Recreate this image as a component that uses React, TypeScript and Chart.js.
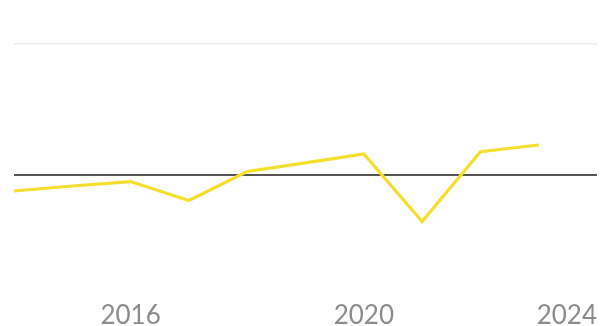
import React, { useEffect, useRef } from "react";
import { Chart, registerables } from "chart.js";

Chart.register(...registerables);

const years = [2014, 2015, 2016, 2017, 2018, 2019, 2020, 2021, 2022, 2023];
const values = [-1.22, -0.84, -0.5, -1.95, 0.27, 0.92, 1.6, -3.56, 1.78, 2.29];
const xTickLabels = [2016, 2020, 2024];
const yMin = -10;
const yMax = 10;
const xMin = 2014;
const xMax = 2024;

const labelPlugin = {
  id: "xLabels",
  afterDraw(chart: any) {
    const { ctx, scales } = chart;
    const x = scales.x;
    ctx.save();
    ctx.font = "26px Lato";
    ctx.fillStyle = "#8c8c8c";
    ctx.textAlign = "center";
    ctx.textBaseline = "middle";
    const w = chart.width;
    xTickLabels.forEach((t) => {
      const label = String(t);
      const tw = ctx.measureText(label).width;
      let px = x.getPixelForValue(t);
      if (px + tw / 2 > w - 4) px = w - 4 - tw / 2;
      ctx.fillText(label, px, 316);
    });
    ctx.restore();
  },
};

export default function App() {
  const ref = useRef<HTMLCanvasElement | null>(null);
  useEffect(() => {
    if (!ref.current) return;
    const chart = new Chart(ref.current, {
      type: "line",
      data: {
        datasets: [
          {
            data: years.map((y, i) => ({ x: y, y: values[i] })),
            borderColor: "#f3df2c",
            borderWidth: 3.2,
            pointRadius: 0,
            tension: 0,
            fill: false,
          },
        ],
      },
      options: {
        animation: false,
        responsive: true,
        maintainAspectRatio: false,
        layout: { padding: { left: 14, right: 4, top: 44, bottom: 20 } },
        plugins: { legend: { display: false }, tooltip: { enabled: false } },
        scales: {
          x: {
            type: "linear",
            min: xMin,
            max: xMax,
            display: false,
          },
          y: {
            min: yMin,
            max: yMax,
            ticks: { display: false, stepSize: 10 },
            border: { display: false },
            grid: {
              drawTicks: false,
              color: (c: any) =>
                c.tick && c.tick.value === 0
                  ? "#555555"
                  : c.tick && c.tick.value === yMax
                  ? "#ececec"
                  : "rgba(0,0,0,0)",
              lineWidth: (c: any) => (c.tick && c.tick.value === 0 ? 2 : 1.5),
            },
          },
        },
      },
      plugins: [labelPlugin],
    });
    return () => chart.destroy();
  }, []);
  return (
    <div style={{ position: "fixed", left: 0, top: 0, width: 601, height: 326, background: "#fff" }}>
      <canvas ref={ref} />
    </div>
  );
}
